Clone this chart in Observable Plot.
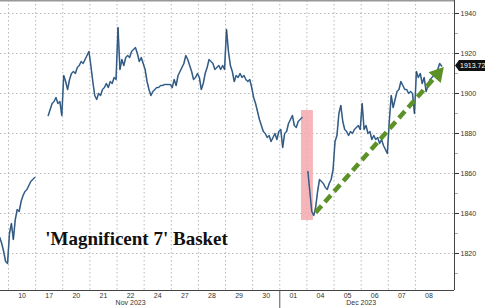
<!DOCTYPE html>
<html><head><meta charset="utf-8">
<script src="https://cdn.jsdelivr.net/npm/d3@7"></script>
<script src="https://cdn.jsdelivr.net/npm/@observablehq/plot@0.6"></script>
<style>html,body{margin:0;padding:0;background:#fff}#chart svg{display:block}</style>
</head><body><div id="chart"></div>
<script>
const dayLabels = ["10","17","20","21","22","24","27","28","29","30","01","04","05","06","07","08"];
const monthLabels = ["Nov 2023","Dec 2023"];
const monthPos = [4.5, 13];
const monthBreak = [10];
const yTicks = [1820,1840,1860,1880,1900,1920,1940];
const yMinor = [1810,1830,1850,1870,1890,1910,1930];
const samplesPerDay = 14;
// slot -1 = Nov 09 (only its end is visible)
const nov09 = [null,null,null,null,null,null,null,null,null,1828,1825,1821,1816,1815];
const nov10 = [1830,1835,1827,1837,1842,1841,1846,1849,1851,1852,1854,1856,1857,1858];
const nov17 = [null,null,null,null,null,null,1889,1892,1895,1896,1898,1895,1896,1889];
const nov20 = [1909,1906,1902,1907,1910,1911,1910,1913,1914,1916,1915,1917,1919,1921];
const nov21 = [1914,1906,1899,1897,1900,1899,1902,1903,1905,1903,1906,1905,1908,1907];
const nov22 = [1933,1912,1917,1914,1918,1919,1918,1921,1922,1923,1920,1916,1918,1915];
const nov24 = [1912,1906,1902,1899,1901,1902,1903,1903,1904,1904,1904.5,1904.5,1904.5,1904.5];
const nov27 = [1903,1907,1904,1909,1911,1913,1915,1919,1917,1914,1911,1907,1908,1910];
const nov28 = [1908,1902,1905,1910,1913,1917,1916,1915,1912,1913,1914,1912,1914,1912];
const nov29 = [1932,1921,1914,1911,1906,1909,1908,1910,1908,1909,1907,1906,1907,1903];
const nov30 = [1898,1895,1891,1887,1884,1881,1880,1878,1879,1876,1878,1880,1877,1881];
const dec01 = [1882,1873,1880,1881,1885,1887,1889,1884,1883,1886,1887,1888,null,null];
const dec04 = [1861,1851,1841,1839,1843,1851,1857,1856,1855,1853,1852,1855,1857,1862];
const dec05 = [1876,1879,1890,1894,1886,1882,1881,1879,1881,1880,1882,1883,1884,1882];
const dec06 = [1895,1882,1884,1880,1881,1877,1879,1877,1878,1875,1877,1874,1872,1870];
const dec07 = [1886,1899,1893,1897,1901,1902,1906,1904,1902,1902,1900,1901,1900,1890];
const dec08 = [1911,1908,1910,1905,1908,1901,1904,1907,1908,1909,1911,1912,1915,1913.72];
const lastValue = 1913.72;

const highlightX = [10.8, 11.24];
const highlightY = [1836.5, 1891.5];
const trendStart = [11.32, 1840.5];
const trendBase = [15.74, 1908.5];
const trendHead = [15.82, 1909.7];
const titleText = "'Magnificent 7' Basket";
const titlePos = [4.72, 1824.5];

const days = [nov09,nov10,nov17,nov20,nov21,nov22,nov24,nov27,nov28,nov29,nov30,dec01,dec04,dec05,dec06,dec07,dec08];
const points = days.flatMap((vals, d) => vals.map((v, i) => ({t: d - 1 + (i + 0.5) / samplesPerDay, v})));
const xDomain = [-0.295, 16.44];
const yDomain = [1801.5, 1946.5];

const grid = {stroke: "#b8b8b8", strokeDasharray: "1.5,2.5", strokeWidth: 1};

const chart = Plot.plot({
  width: 485, height: 308,
  marginLeft: 0, marginRight: 31, marginTop: 0, marginBottom: 18,
  x: {domain: xDomain, axis: null, label: null},
  y: {domain: yDomain, axis: null, label: null},
  style: {fontFamily: "'Liberation Sans', Arial, sans-serif", fontSize: "7px", color: "#333", background: "#fff", overflow: "visible"},
  marks: [
    Plot.ruleX(dayLabels.map((d, i) => i), grid),
    Plot.ruleY(yTicks, grid),
    Plot.rect([0], {x1: highlightX[0], x2: highlightX[1], y1: highlightY[0], y2: highlightY[1], fill: "#f4a9ad", fillOpacity: 0.85}),
    Plot.line(points, {x: "t", y: "v", stroke: "#4d80b3", strokeWidth: 1.6, clip: true}),
    Plot.line(points, {x: "t", y: "v", stroke: "#1d2633", strokeWidth: 0.6, strokeOpacity: 0.8, clip: true}),
    Plot.link([0], {x1: trendStart[0], y1: trendStart[1], x2: trendBase[0], y2: trendBase[1], stroke: "#5c9127", strokeWidth: 4.5, strokeDasharray: "9,5"}),
    Plot.dot([0], {x: trendHead[0], y: trendHead[1], symbol: "triangle", r: 6, fill: "#5c9127", stroke: "none", rotate: 41}),
    Plot.text([titleText], {x: titlePos[0], y: titlePos[1], text: d => d, fontFamily: "'Liberation Serif', 'Times New Roman', serif", fontWeight: "bold", fontSize: 19, fill: "#111", lineAnchor: "bottom", textAnchor: "middle"}),
    Plot.ruleY([yDomain[0]], {stroke: "#444", strokeWidth: 1}),
    Plot.ruleX([xDomain[1]], {stroke: "#444", strokeWidth: 1}),
    Plot.ruleY([yDomain[1]], {stroke: "#999", strokeWidth: 2}),
    Plot.axisY(yTicks, {anchor: "right", label: null, tickSize: 4, tickPadding: 2, stroke: "#333", fill: "#333", fontSize: 7, tickFormat: d => String(d)}),
    Plot.axisY(yMinor, {anchor: "right", label: null, tickSize: 3, tickPadding: 2, stroke: "#aaa", tickFormat: () => ""}),
    Plot.axisX(dayLabels.map((d, i) => i + 0.5), {anchor: "bottom", label: null, tickSize: 0, tickPadding: 3, tickFormat: d => dayLabels[Math.floor(d)], fill: "#333", fontSize: 7}),
    Plot.axisX(monthBreak, {anchor: "bottom", label: null, tickSize: 18, stroke: "#555", tickFormat: () => ""}),
    Plot.text(monthLabels, {x: (d, i) => monthPos[i], frameAnchor: "bottom", dy: 14, text: d => d, fill: "#333", fontSize: 7})
  ]
});
document.getElementById("chart").appendChild(chart);

// last-value label drawn at the y-scale position of the final value
const yPix = chart.scale("y").apply(lastValue);
const xPix = chart.scale("x").apply(xDomain[1]);
const g = d3.select(chart).append("g");
g.append("path")
  .attr("d", `M${xPix + 1},${yPix} L${xPix + 5},${yPix - 5.5} L485,${yPix - 5.5} L485,${yPix + 5.5} L${xPix + 5},${yPix + 5.5} Z`)
  .attr("fill", "#111");
g.append("text").attr("x", xPix + 6).attr("y", yPix).attr("dy", "0.35em")
  .attr("text-anchor", "start").attr("fill", "#fff").attr("font-size", 7).text(lastValue.toFixed(2));
</script>
</body></html>
